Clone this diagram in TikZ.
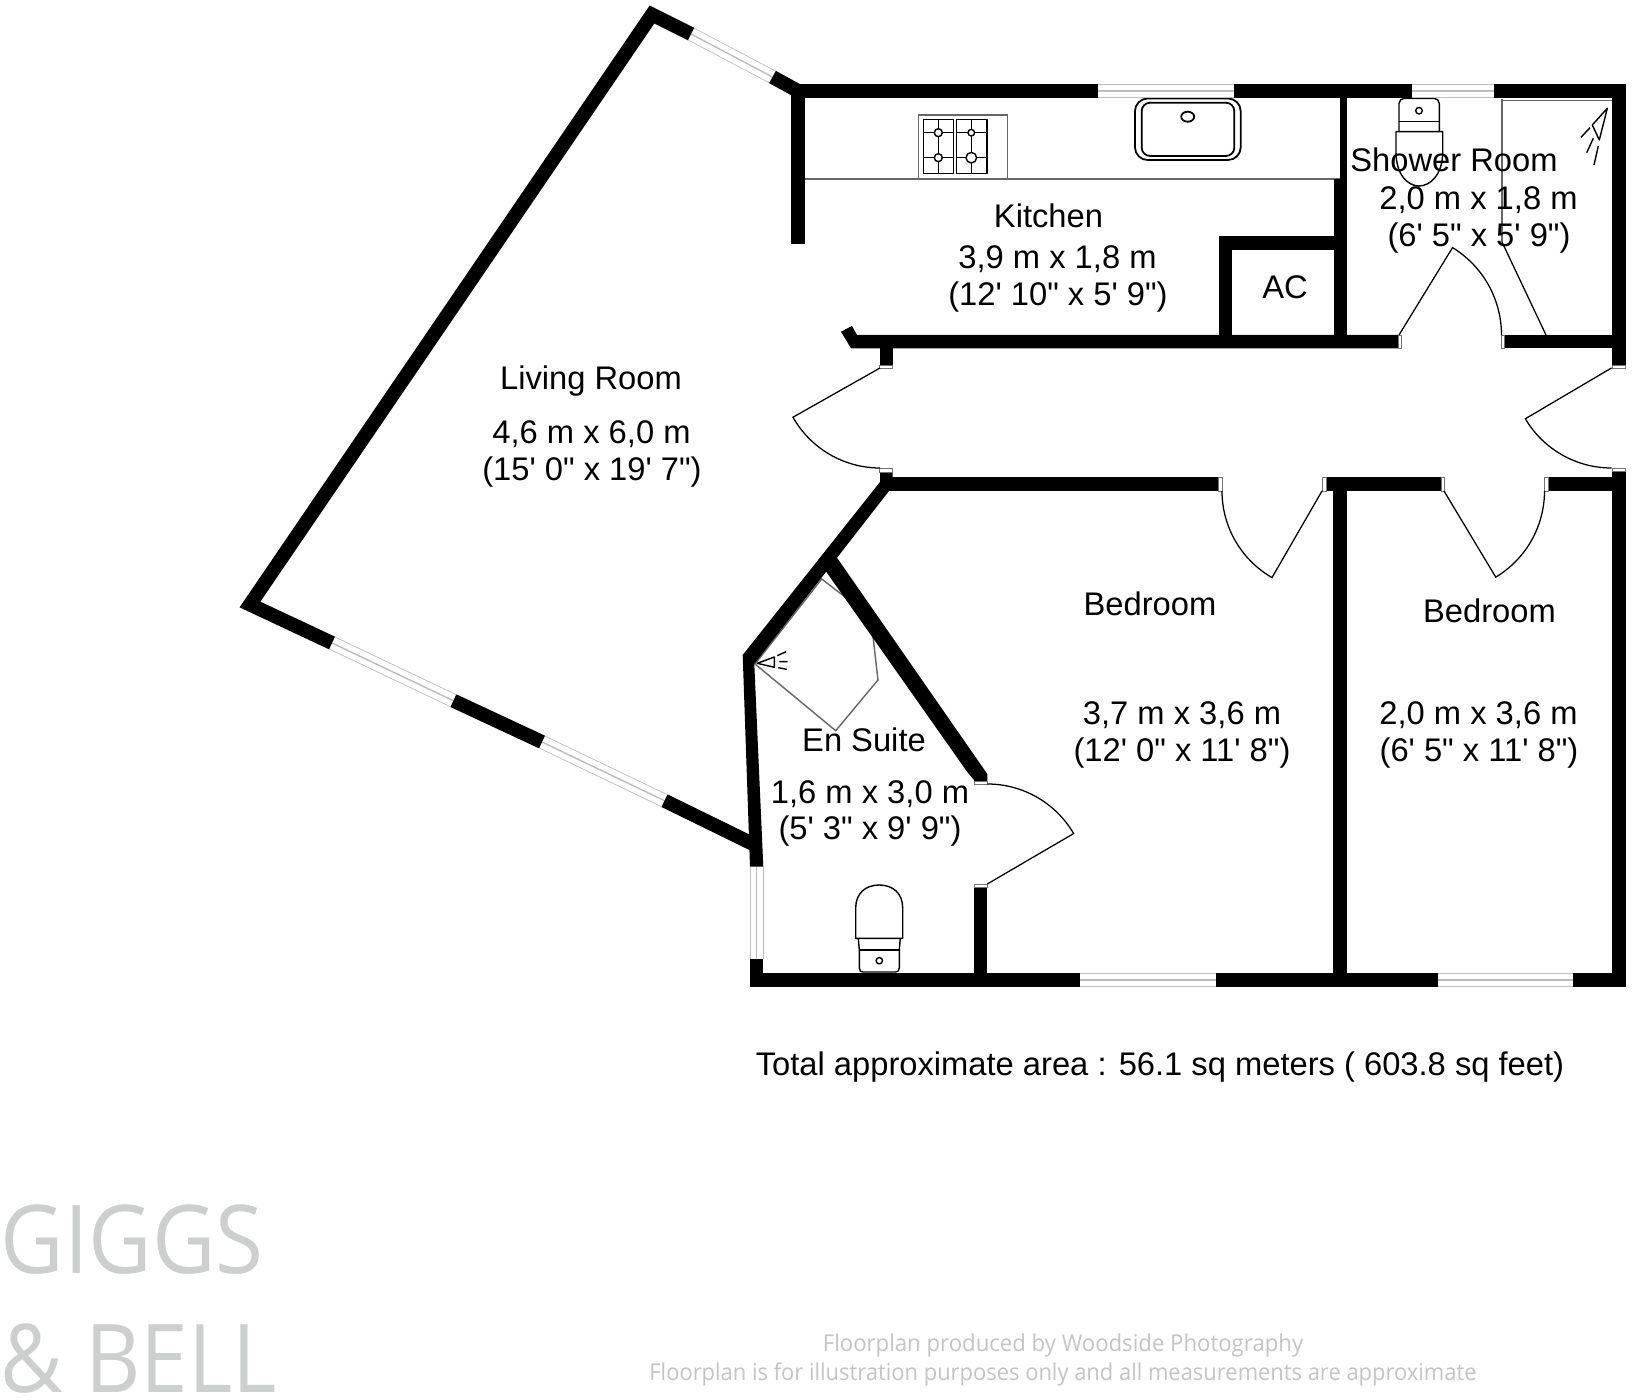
\documentclass[tikz,border=0pt]{standalone}
\usepackage{fontspec}
\setmainfont[Ligatures=TeXOff]{Liberation Sans}
\newfontfamily\wmfont{Open Sans}
\newcommand{\labelfont}{\fontsize{9.3pt}{11pt}\selectfont}
\newcommand{\win}[2]{%
  \draw[line width=3.98pt,color=wingray] #1 -- #2;
  \draw[line width=3.5pt,color=white] #1 -- #2;
  \draw[line width=0.4pt,color=wingray] #1 -- #2;}
\newcommand{\wbox}[4]{\fill[black] (#1,#2) rectangle (#3,#4);}
\newcommand{\jamb}[4]{\draw[fill=white,draw=black!55,line width=0.2pt] (#1,#2) rectangle (#3,#4);}
\newcommand{\doorleaf}[5]{% cx cy r a1 a2
  \draw[doorline] plot[domain=#4:#5,samples=24,smooth] ({#1+#3*cos(\x)},{#2+#3*sin(\x)}) -- (#1,#2);}
\definecolor{wingray}{HTML}{BDBDBD}
\definecolor{thingray}{HTML}{666666}
\definecolor{wmgray}{HTML}{CDCFCF}
\definecolor{footgray}{HTML}{C4C4C4}
\tikzset{
  doorline/.style={draw=black,line width=0.36pt,line join=miter},
  fitline/.style={draw=black,line width=0.4pt,line join=round},
  gline/.style={draw=thingray,line width=0.4pt},
  diagwall/.style={draw=black,line width=3.98pt,line join=miter,miter limit=10},
  roomlabel/.style={anchor=base,inner sep=0pt,font=\labelfont,text=black},
  foot/.style={anchor=base,inner sep=0pt,text=footgray},
  wmark/.style={anchor=base west,inner sep=0pt,text=wmgray}
}
\begin{document}
\begin{tikzpicture}[x=0.01cm,y=-0.01cm]
\useasboundingbox (0,0) rectangle (1632,1400);
\fill[white] (0,0) rectangle (1632,1400);

% ---- fixtures under the walls
% worktop
\draw[gline] (805,179) -- (1340,179);
% cooker
\draw[gline,fill=white] (918.3,115) rectangle (1007.3,178.5);
\draw[fitline] (923.3,119.3) rectangle (953.3,173.3);
\draw[fitline] (956.7,119.3) rectangle (987,173.3);
\draw[fitline] (923.3,132.7) -- (953.3,132.7) (923.3,157.7) -- (953.3,157.7) (938.3,119.3) -- (938.3,173.3);
\draw[fitline] (956.7,132.7) -- (987,132.7) (956.7,157.7) -- (987,157.7) (971.3,119.3) -- (971.3,173.3);
\draw[fitline,fill=white] (938.3,132.7) circle[radius=4];
\draw[fitline,fill=white] (938.3,157.7) circle[radius=4];
\draw[fitline,fill=white] (971.3,132.7) circle[radius=3.3];
\draw[fitline,fill=white] (971.3,157.7) circle[radius=5.3];
% sink
\draw[fitline,line width=0.5pt,rounded corners=3.6pt] (1135,98.5) rectangle (1240.7,160);
\draw[fitline,line width=0.5pt,rounded corners=2.4pt] (1141.7,102.7) rectangle (1234.3,156);
\draw[fitline,line width=0.5pt] (1187.7,116.7) ellipse[x radius=6.5,y radius=5];
% shower room toilet
\draw[fitline,rounded corners=1.5pt] (1399,131.7) -- (1399,98.3) -- (1439.3,98.3) -- (1439.3,131.7);
\draw[fitline] (1399,121.7) -- (1439.3,121.7);
\draw[fitline] (1396,131.7) -- (1396,152) .. controls (1396,175) and (1408,186) .. (1419,186) .. controls (1430,186) and (1442.7,175) .. (1442.7,152) -- (1442.7,131.7) -- cycle;
\draw[fitline] (1419,110.7) circle[radius=3.3];
% shower screen
\draw[gline] (1502,99) -- (1502,242);
\draw[doorline] (1502,242) -- (1546,335);
\draw[gline] (1502,100.5) -- (1612,100.5);
% shower head, shower room
\draw[fitline] (1607.3,108.3) -- (1592.3,125) -- (1599.3,140) -- cycle;
\draw[fitline] (1590,127.7) -- (1581,137.3) (1593.3,138.3) -- (1586.7,152.7) (1598.3,146) -- (1594,165);
% en suite shower tray
\draw[gline] (755,664) -- (835.7,730.7) -- (878,680) -- (870.7,616.7) -- (821.7,579) -- cycle;
% shower head, en suite
\draw[fitline] (757.3,663.3) -- (774.3,657) -- (774.3,667.3) -- cycle;
\draw[fitline] (777.3,655.7) -- (786,651.7) (779.3,661.7) -- (787.7,661.7) (778.3,667.7) -- (786.7,669.3);
% en suite toilet
\draw[fitline] (855.7,938.3) -- (855.7,908) .. controls (855.7,893) and (866,885) .. (879.2,885) .. controls (892.5,885) and (902.7,893) .. (902.7,908) -- (902.7,938.3) -- cycle;
\draw[fitline] (858.3,938.3) -- (859.3,950) -- (859.3,968) .. controls (859.3,971) and (861,972) .. (863,972) -- (895.5,972) .. controls (897.5,972) and (899.3,971) .. (899.3,968) -- (899.3,950) -- (900.3,938.3);
\draw[fitline] (859.3,950) -- (899.3,950);
\draw[fitline] (879.3,960.7) circle[radius=3.2];

% ---- windows
\win{(691,34)}{(772.5,77)}
\win{(332,643)}{(453.4,700.7)}
\win{(542,742)}{(664.5,800.7)}
\win{(1098,91)}{(1234,91)}
\win{(1412,91)}{(1493.6,91)}
\win{(756.7,866.7)}{(756.7,959.3)}
\win{(1080,980)}{(1215.7,980)}
\win{(1438.3,980)}{(1573.3,980)}

% ---- diagonal walls
\draw[diagwall] (691,34) -- (652,14.5) -- (250,604.5) -- (332,643);
\draw[diagwall] (453.4,700.7) -- (542,742);
\draw[diagwall] (664.5,800.7) -- (753,844);
\draw[diagwall] (772.5,77) -- (798,91);

% en suite angled walls
\fill[black] (880,472) -- (892.7,472) -- (892.7,480) -- (889,491) -- (754.3,664) -- (763.3,866.7) -- (750,866.7) -- (742.7,655) -- (880,482) -- cycle;
\fill[black] (836.7,557.3) -- (987.3,774) -- (987.3,781) -- (974,781) -- (974,780) -- (968,773) -- (825,570) -- cycle;

% ---- straight walls
\wbox{797}{84}{1098}{98}
\wbox{1234}{84}{1412}{98}
\wbox{1493.6}{84}{1625.7}{98}
\wbox{790.6}{84}{804.6}{244}
\wbox{1340}{98}{1347}{179}
\wbox{1334}{179}{1347}{335}
\wbox{1218.6}{236}{1334}{250}
\wbox{1218.6}{250}{1232}{335}
\wbox{1612}{84}{1625.7}{365}
\wbox{1612}{471}{1625.7}{986.7}
% hall top wall
\fill[black] (841,331.7) -- (852,326) -- (857,335) -- (1398,335) -- (1398,348.3) -- (851,348.3) -- cycle;
\wbox{1504}{335}{1612}{348.3}
\wbox{879.5}{348}{892.5}{365}
% hall lower wall
\wbox{889}{477.5}{1218.5}{491}
\wbox{1326}{477.5}{1441}{491.2}
\wbox{1548}{477.5}{1612}{491.2}
% bedroom partition
\wbox{1333.3}{491}{1346.7}{975}
% en suite lower stub, left stub
\wbox{974}{887}{987.3}{975}
\wbox{750}{959.3}{763.3}{986.7}
% bottom wall
\wbox{750}{973.3}{1080}{986.7}
\wbox{1215.7}{973.3}{1438.3}{986.7}
\wbox{1573.3}{973.3}{1625.7}{986.7}

% ---- door jambs
\jamb{879.5}{365}{892.5}{368}
\jamb{879.5}{468}{892.7}{472}
\jamb{1612}{365}{1625.7}{368}
\jamb{1612}{468}{1625.7}{471}
\jamb{1398}{335}{1401}{348.3}
\jamb{1501.7}{335}{1504}{348.3}
\jamb{1218.5}{477.5}{1222}{491.2}
\jamb{1322}{477.5}{1326}{491.2}
\jamb{1441}{477.5}{1444.5}{491.2}
\jamb{1544.5}{477.5}{1548}{491.2}
\jamb{974}{781}{987.3}{784}
\jamb{974}{884}{987.3}{887}

% ---- door leaves (hinge x, y, radius, from, to)
\doorleaf{880}{368}{100}{90}{150.5}
\doorleaf{1611.5}{368}{100}{90}{149.5}
\doorleaf{1399}{335}{102.5}{0}{-58.5}
\doorleaf{1322}{491}{100}{180}{120}
\doorleaf{1444}{491}{100.5}{0}{59}
\doorleaf{987.3}{884}{100}{-90}{-30.3}

% ---- labels
\node[roomlabel] (lr1) at (591,389.3) {Living Room};
\node[roomlabel] (lr2) at (591.5,443.5) {4,6 m x 6,0 m};
\node[roomlabel] (lr3) at (592,480.5) {(15' 0" x 19' 7")};
\node[roomlabel] (ki1) at (1048.5,227.7) {Kitchen};
\node[roomlabel] (ki2) at (1057.5,268.5) {3,9 m x 1,8 m};
\node[roomlabel] (ki3) at (1058,305.5) {(12' 10" x 5' 9")};
\node[roomlabel] (ac) at (1285,298.5) {AC};
\node[roomlabel] (sr1) at (1454,172) {Shower Room};
\node[roomlabel] (sr2) at (1478.5,210) {2,0 m x 1,8 m};
\node[roomlabel] (sr3) at (1479,247) {(6' 5" x 5' 9")};
\node[roomlabel] (b1a) at (1150,616) {Bedroom};
\node[roomlabel] (b1b) at (1182,725) {3,7 m x 3,6 m};
\node[roomlabel] (b1c) at (1182,761.5) {(12' 0" x 11' 8")};
\node[roomlabel] (b2a) at (1489.5,623) {Bedroom};
\node[roomlabel] (b2b) at (1478.5,725) {2,0 m x 3,6 m};
\node[roomlabel] (b2c) at (1479,761.5) {(6' 5" x 11' 8")};
\node[roomlabel] (es1) at (864,751.5) {En Suite};
\node[roomlabel] (es2) at (870,803.5) {1,6 m x 3,0 m};
\node[roomlabel] (es3) at (870,840) {(5' 3" x 9' 9")};
\node[roomlabel] (tot) at (1160,1075.5) {Total approximate area : 56.1 sq meters ( 603.8 sq feet)};

\node[foot] (f1) at (1063,1351.2) {\wmfont\fontsize{6.6pt}{8pt}\selectfont\scalebox{0.955}[1]{Floorplan produced by Woodside Photography}};
\node[foot] (f2) at (1063,1380.5) {\wmfont\fontsize{6.6pt}{8pt}\selectfont\scalebox{0.945}[1]{Floorplan is for illustration purposes only and all measurements are approximate}};
\node[wmark] (g1) at (0,1273) {\wmfont\fontsize{27pt}{30pt}\selectfont\scalebox{0.92}[1]{GIGGS}};
\node[wmark] (g2) at (0,1392) {\wmfont\fontsize{27pt}{30pt}\selectfont\scalebox{0.9}[1]{\& BELL}};
\end{tikzpicture}
\end{document}
